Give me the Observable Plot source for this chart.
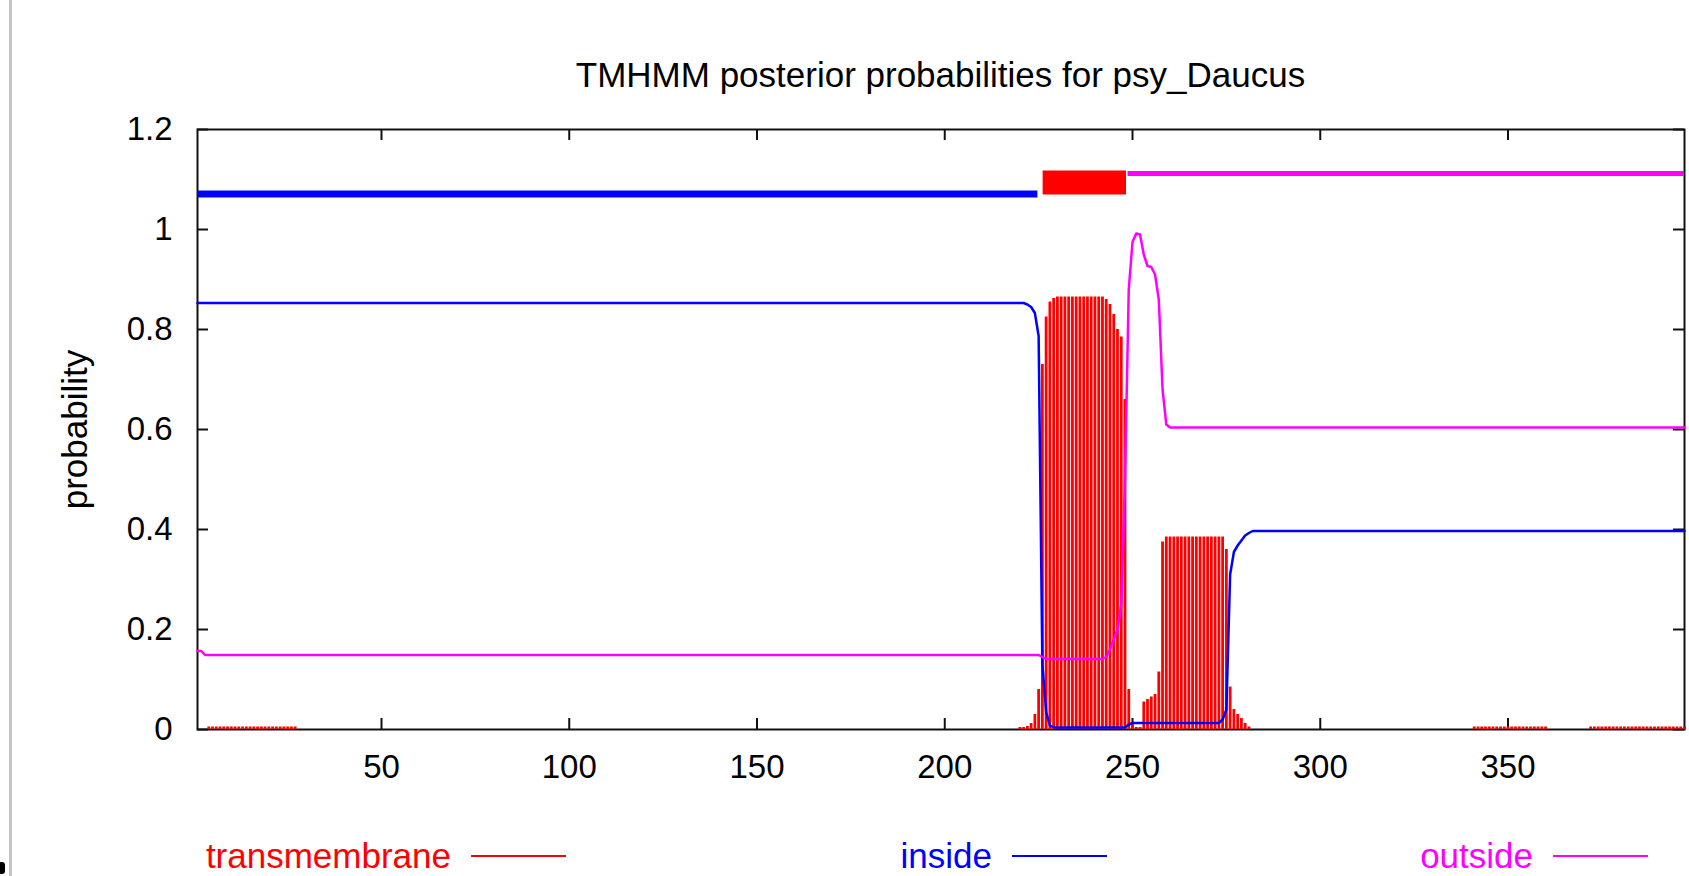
<!DOCTYPE html>
<html>
<head>
<meta charset="utf-8">
<script src="https://cdn.jsdelivr.net/npm/d3@7"></script>
<script src="https://cdn.jsdelivr.net/npm/@observablehq/plot@0.6"></script>
<style>
  html, body { margin: 0; padding: 0; background: #fff; }
  #wrap { position: relative; width: 1689px; height: 876px; overflow: hidden; font-family: "Liberation Sans", Arial, sans-serif; color: #000; }
  #title { position: relative; height: 100px; }
  #title span { position: absolute; left: 197px; width: 1487px; top: 57px; text-align: center; font-size: 35px; line-height: 35px; white-space: nowrap; }
  #chart svg { display: block; }
  #legend { position: relative; height: 76px; }
  .item { position: absolute; top: 38px; display: flex; align-items: center; font-size: 35px; line-height: 35px; white-space: nowrap; }
  .item .sw { width: 95px; height: 2px; margin-left: 20px; }
  #edge { position: absolute; left: 9px; top: 0; width: 3px; height: 876px; background: #c4c4c4; }
  #dot { position: absolute; left: 0; top: 862px; width: 5px; height: 12px; background: #000; border-radius: 0 3px 3px 0; }
</style>
</head>
<body>
<div id="wrap">
  <div id="edge"></div>
  <div id="dot"></div>
  <div id="title"><span></span></div>
  <div id="chart"></div>
  <div id="legend"></div>
</div>
<script>
// ---- text ----
const titleText = "TMHMM posterior probabilities for psy_Daucus";
const yLabel = "probability";

// ---- ticks ----
const xTicks = [50, 100, 150, 200, 250, 300, 350];
const yTicks = [0, 0.2, 0.4, 0.6, 0.8, 1, 1.2];
const yTickLabels = ["0", "0.2", "0.4", "0.6", "0.8", "1", "1.2"];

// ---- series names / colours ----
const seriesNames = ["transmembrane", "inside", "outside"];
const seriesColors = ["#ff0000", "#0000ff", "#ff00ff"];

// ---- transmembrane posterior (impulses) ----
const tmResidue = [
  4,5,6,7,8,9,10,11,12,13,14,15,16,17,18,19,20,21,22,23,24,25,26,27,
  220,221,222,223,224,225,226,227,228,229,230,231,232,233,234,235,236,237,238,239,240,
  241,242,243,244,245,246,247,248,249,250,251,252,253,254,255,256,257,258,259,260,
  261,262,263,264,265,266,267,268,269,270,271,272,273,274,275,276,277,278,279,280,281,
  341,342,343,344,345,346,347,348,349,350,351,352,353,354,355,356,357,358,359,360,
  372,373,374,375,376,377,378,379,380,381,382,383,384,385,386,387,388,389,390,391,392,393,394,395,396,397
];
const tmProb = [
  0.005,0.005,0.005,0.005,0.005,0.005,0.005,0.005,0.005,0.005,0.005,0.005,0.005,0.005,0.005,0.005,0.005,0.005,0.005,0.005,0.005,0.005,0.005,0.005,
  0.004,0.004,0.006,0.012,0.03,0.08,0.73,0.825,0.855,0.862,0.865,0.865,0.865,0.865,0.865,0.865,0.865,0.865,0.865,0.865,0.865,
  0.865,0.865,0.86,0.85,0.83,0.80,0.785,0.66,0.08,0.012,0.004,0.004,0.055,0.06,0.065,0.07,0.115,0.375,0.385,0.385,
  0.385,0.385,0.385,0.385,0.385,0.385,0.385,0.385,0.385,0.385,0.385,0.385,0.385,0.385,0.36,0.085,0.04,0.03,0.022,0.012,0.005,
  0.005,0.005,0.005,0.005,0.005,0.005,0.005,0.005,0.005,0.005,0.005,0.005,0.005,0.005,0.005,0.005,0.005,0.005,0.005,0.005,
  0.005,0.005,0.005,0.005,0.005,0.005,0.005,0.005,0.005,0.005,0.005,0.005,0.005,0.005,0.005,0.005,0.005,0.005,0.005,0.005,0.005,0.005,0.005,0.005,0.005,0.005
];

// ---- inside posterior (line; residues where the value changes) ----
const insideResidue = [1, 221, 222, 223, 224, 225, 226, 227, 228, 229, 248, 249, 250, 273, 274, 275, 276, 277, 278, 279, 280, 281, 282, 397];
const insideProb    = [0.853, 0.853, 0.85, 0.845, 0.833, 0.787, 0.13, 0.035, 0.008, 0.004, 0.004, 0.01, 0.013, 0.013, 0.02, 0.04, 0.31, 0.355, 0.368, 0.378, 0.388, 0.393, 0.397, 0.397];

// ---- outside posterior (line) ----
const outsideResidue = [1, 2, 3, 225, 226, 227, 242, 243, 244, 245, 246, 247, 248, 249, 250, 251, 252, 253, 254, 255, 256, 257, 258, 259, 260, 397];
const outsideProb    = [0.157, 0.157, 0.149, 0.149, 0.145, 0.141, 0.141, 0.145, 0.16, 0.18, 0.2, 0.25, 0.5, 0.88, 0.975, 0.992, 0.99, 0.95, 0.927, 0.925, 0.91, 0.86, 0.68, 0.61, 0.604, 0.604];

// ---- predicted topology (bar above the plot) ----
const topoType  = ["inside", "TMhelix", "outside"];
const topoStart = [1, 226.2, 248.8];
const topoEnd   = [224.8, 248.4, 397];
const topoLow   = [1.071, 1.069, 1.112];
const topoHigh  = [1.071, 1.117, 1.112];

// ---- build tables ----
const tm = tmResidue.map((r, i) => ({pos: r, p: tmProb[i]}));
const inside = insideResidue.map((r, i) => ({pos: r, p: insideProb[i]}));
const outside = outsideResidue.map((r, i) => ({pos: r, p: outsideProb[i]}));
const topo = topoType.map((t, i) => ({type: t, x1: topoStart[i], x2: topoEnd[i], y1: topoLow[i], y2: topoHigh[i]}));
const colorOf = Object.fromEntries(seriesNames.map((n, i) => [n, seriesColors[i]]));

document.querySelector("#title span").textContent = titleText;

const frameW = 1689 - 197 - 5;   // plot frame width in px
const frameH = 700 - 29 - 71;    // plot frame height in px
const tickLen = 11;
const axisInk = "#111";

const chart = Plot.plot({
  width: 1689,
  height: 700,
  marginLeft: 197,
  marginRight: 5,
  marginTop: 29,
  marginBottom: 71,
  x: {domain: [1, 397]},
  y: {domain: [0, 1.2]},
  style: {fontFamily: "'Liberation Sans', Arial, sans-serif", fontSize: "33px", color: "#000", background: "#fff", overflow: "visible"},
  marks: [
    Plot.frame({stroke: axisInk, strokeWidth: 2}),
    // inward tick marks on all four sides
    Plot.ruleX(xTicks, {x: d => d, insetTop: frameH - tickLen, stroke: axisInk, strokeWidth: 2}),
    Plot.ruleX(xTicks, {x: d => d, insetBottom: frameH - tickLen, stroke: axisInk, strokeWidth: 2}),
    Plot.ruleY(yTicks, {y: d => d, insetRight: frameW - tickLen, stroke: axisInk, strokeWidth: 2}),
    Plot.ruleY(yTicks, {y: d => d, insetLeft: frameW - tickLen, stroke: axisInk, strokeWidth: 2}),
    Plot.axisX(xTicks, {tickSize: 0, tickPadding: 25, label: null, fontSize: 33}),
    Plot.axisY(yTicks, {tickSize: 0, tickPadding: 25, label: null, fontSize: 33,
      tickFormat: d => yTickLabels[yTicks.indexOf(d)]}),
    Plot.text([yLabel], {text: d => d, frameAnchor: "left", textAnchor: "middle", lineAnchor: "middle", dx: -122, rotate: -90, fontSize: 35}),
    // transmembrane impulses
    Plot.ruleX(tm, {x: "pos", y1: 0, y2: "p", stroke: colorOf.transmembrane, strokeWidth: 2.8}),
    // inside / outside curves
    Plot.line(inside, {x: "pos", y: "p", stroke: colorOf.inside, strokeWidth: 2.5}),
    Plot.line(outside, {x: "pos", y: "p", stroke: colorOf.outside, strokeWidth: 2.5}),
    // topology bar
    Plot.ruleY(topo.filter(d => d.type === "inside"), {x1: "x1", x2: "x2", y: "y1", stroke: colorOf.inside, strokeWidth: 7}),
    Plot.rect(topo.filter(d => d.type === "TMhelix"), {x1: "x1", x2: "x2", y1: "y1", y2: "y2", fill: colorOf.transmembrane}),
    Plot.ruleY(topo.filter(d => d.type === "outside"), {x1: "x1", x2: "x2", y: "y1", stroke: colorOf.outside, strokeWidth: 5})
  ]
});
document.getElementById("chart").appendChild(chart);

// ---- legend (below the chart) ----
const legendLineEnds = [566, 1107, 1648];
const legend = document.getElementById("legend");
seriesNames.forEach((name, i) => {
  const item = document.createElement("div");
  item.className = "item";
  item.style.right = (1689 - legendLineEnds[i]) + "px";
  item.style.color = seriesColors[i];
  const label = document.createElement("span");
  label.textContent = name;
  const sw = document.createElement("span");
  sw.className = "sw";
  sw.style.background = seriesColors[i];
  item.appendChild(label);
  item.appendChild(sw);
  legend.appendChild(item);
});
</script>
</body>
</html>
